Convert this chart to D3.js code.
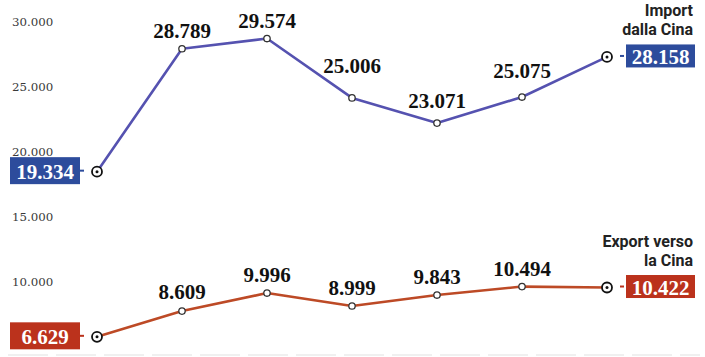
<!DOCTYPE html>
<html>
<head>
<meta charset="utf-8">
<script src="https://cdn.jsdelivr.net/npm/d3@7"></script>
<style>
  body { margin: 0; background: #fff; }
  svg { display: block; }
</style>
</head>
<body>
<div id="chart"></div>
<script>
"use strict";

// periods (not labelled in the graphic)
const periods = ["p1", "p2", "p3", "p4", "p5", "p6", "p7"];
const importCina = [19334, 28789, 29574, 25006, 23071, 25075, 28158];
const exportCina = [6629, 8609, 9996, 8999, 9843, 10494, 10422];
const tickValues = [10000, 15000, 20000, 25000, 30000];
const importTitle = ["Import", "dalla Cina"];
const exportTitle = ["Export verso", "la Cina"];

const width = 705, height = 357;

const it = d3.formatLocale({ decimal: ",", thousands: ".", grouping: [3], currency: ["€", ""] });
const fmt = it.format(",d");

let svg = d3.select("#chart")
    .append("svg")
    .attr("width", width)
    .attr("height", height);

let x = d3.scalePoint().domain(periods).range([97, 607]);
let y = d3.scaleLinear().domain([0, 30000]).range([423, 33]);

// y tick labels (no gridlines, text sits a little above its level)
svg.append("g")
    .selectAll("text")
    .data(tickValues)
    .join("text")
    .attr("x", 12)
    .attr("y", d => y(d) - 7)
    .attr("font-family", "DejaVu Serif, serif")
    .attr("font-size", 11.8)
    .attr("fill", "#3a3a3a")
    .text(d => fmt(d));

// faint rule at the bottom
svg.append("line")
    .attr("x1", 8).attr("x2", 700)
    .attr("y1", 355).attr("y2", 355)
    .attr("stroke", "#e2e2e2")
    .attr("stroke-width", 1.2)
    .attr("stroke-dasharray", "40 8");

function drawSeries(values, color, boxColor, title) {
    let g = svg.append("g");
    let pts = values.map((v, i) => [x(periods[i]), y(v)]);

    g.append("path")
        .attr("d", d3.line()(pts))
        .attr("fill", "none")
        .attr("stroke", color)
        .attr("stroke-width", 2.6)
        .attr("stroke-linejoin", "round");

    // line height at a given x, for placing labels clear of the line
    function lineAt(px) {
        for (let i = 0; i < pts.length - 1; i++) {
            let a = pts[i], b = pts[i + 1];
            if (px >= a[0] && px <= b[0]) return a[1] + (b[1] - a[1]) * (px - a[0]) / (b[0] - a[0]);
        }
        return Infinity;
    }

    let n = values.length;
    let inner = values.slice(1, n - 1).map((v, i) => ({ v: v, i: i + 1 }));

    g.selectAll("circle.mid")
        .data(inner)
        .join("circle")
        .attr("class", "mid")
        .attr("cx", d => pts[d.i][0])
        .attr("cy", d => pts[d.i][1])
        .attr("r", 3.2)
        .attr("fill", "#fff")
        .attr("stroke", "#333")
        .attr("stroke-width", 1.3);

    g.selectAll("text.val")
        .data(inner)
        .join("text")
        .attr("class", "val")
        .attr("x", d => pts[d.i][0])
        .attr("y", d => {
            let px = pts[d.i][0], py = pts[d.i][1];
            return Math.min(py - 11, lineAt(px - 25) - 7, lineAt(px + 25) - 7);
        })
        .attr("text-anchor", "middle")
        .attr("font-family", "Liberation Serif, Times New Roman, serif")
        .attr("font-weight", "bold")
        .attr("font-size", 21)
        .attr("fill", "#111")
        .text(d => fmt(d.v));

    // end markers
    [0, n - 1].forEach(i => {
        g.append("circle")
            .attr("cx", pts[i][0]).attr("cy", pts[i][1])
            .attr("r", 5)
            .attr("fill", "#fff")
            .attr("stroke", "#111")
            .attr("stroke-width", 1.8);
        g.append("circle")
            .attr("cx", pts[i][0]).attr("cy", pts[i][1])
            .attr("r", 1.5)
            .attr("fill", "#111");
    });

    // value boxes at both ends
    let ends = [
        { i: 0, x0: 10, w: 70, h: 27, tick: [80, 84] },
        { i: n - 1, x0: 626, w: 69, h: 23, tick: [620, 624] }
    ];
    ends.forEach(e => {
        let cy = pts[e.i][1];
        g.append("rect")
            .attr("x", e.x0).attr("y", cy - e.h / 2 - 1)
            .attr("width", e.w).attr("height", e.h)
            .attr("fill", boxColor);
        g.append("line")
            .attr("x1", e.tick[0]).attr("x2", e.tick[1])
            .attr("y1", cy - 1).attr("y2", cy - 1)
            .attr("stroke", boxColor)
            .attr("stroke-width", 2);
        g.append("text")
            .attr("x", e.x0 + e.w / 2)
            .attr("y", cy + 7)
            .attr("text-anchor", "middle")
            .attr("font-family", "Liberation Serif, Times New Roman, serif")
            .attr("font-weight", "bold")
            .attr("font-size", 21)
            .attr("fill", "#fff")
            .text(fmt(values[e.i]));
    });

    // series title, right aligned above the end box
    let endY = pts[n - 1][1];
    g.append("text")
        .attr("x", 693)
        .attr("y", endY - 41)
        .attr("text-anchor", "end")
        .attr("font-family", "Roboto, sans-serif")
        .attr("font-weight", "bold")
        .attr("font-size", 16)
        .attr("fill", "#222")
        .selectAll("tspan")
        .data(title)
        .join("tspan")
        .attr("x", 693)
        .attr("dy", (d, i) => i === 0 ? 0 : 19)
        .text(d => d);
}

drawSeries(importCina, "#5552b0", "#2d4c9c", importTitle);
drawSeries(exportCina, "#bd4a26", "#bb321c", exportTitle);
</script>
</body>
</html>
